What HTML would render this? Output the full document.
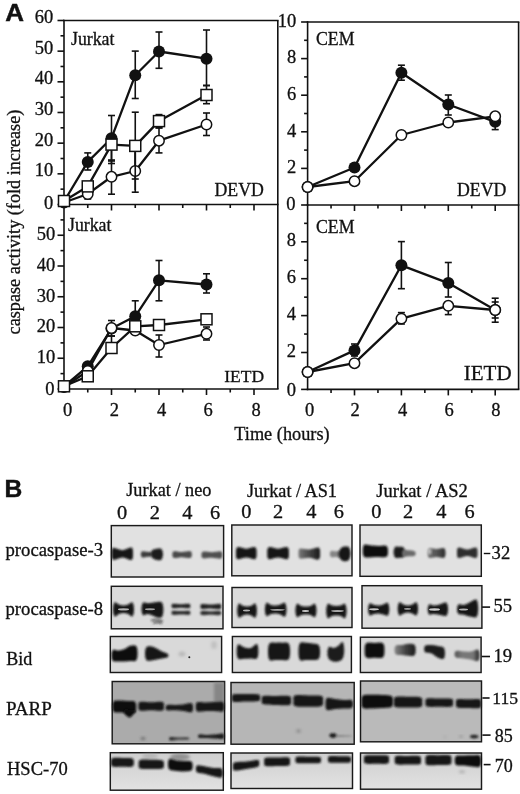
<!DOCTYPE html>
<html><head><meta charset="utf-8"><style>
html,body{margin:0;padding:0;background:#fff;overflow:hidden;width:520px;height:794px;}
svg{display:block;will-change:transform;}
</style></head><body>
<svg width="520" height="794" viewBox="0 0 520 794">
<rect width="520" height="794" fill="#fff"/>
<line x1="63.20" y1="20.50" x2="278.60" y2="20.50" stroke="#111" stroke-width="1.6"/>
<line x1="277.80" y1="20.50" x2="277.80" y2="204.50" stroke="#111" stroke-width="1.6"/>
<line x1="64.00" y1="19.70" x2="64.00" y2="205.30" stroke="#111" stroke-width="1.6"/>
<line x1="63.20" y1="204.50" x2="278.60" y2="204.50" stroke="#111" stroke-width="1.6"/>
<line x1="57.50" y1="204.50" x2="64.00" y2="204.50" stroke="#111" stroke-width="1.6"/>
<line x1="57.50" y1="173.83" x2="64.00" y2="173.83" stroke="#111" stroke-width="1.6"/>
<line x1="57.50" y1="143.16" x2="64.00" y2="143.16" stroke="#111" stroke-width="1.6"/>
<line x1="57.50" y1="112.49" x2="64.00" y2="112.49" stroke="#111" stroke-width="1.6"/>
<line x1="57.50" y1="81.82" x2="64.00" y2="81.82" stroke="#111" stroke-width="1.6"/>
<line x1="57.50" y1="51.15" x2="64.00" y2="51.15" stroke="#111" stroke-width="1.6"/>
<line x1="57.50" y1="20.48" x2="64.00" y2="20.48" stroke="#111" stroke-width="1.6"/>
<line x1="60.50" y1="189.16" x2="64.00" y2="189.16" stroke="#111" stroke-width="1.6"/>
<line x1="60.50" y1="158.50" x2="64.00" y2="158.50" stroke="#111" stroke-width="1.6"/>
<line x1="60.50" y1="127.82" x2="64.00" y2="127.82" stroke="#111" stroke-width="1.6"/>
<line x1="60.50" y1="97.16" x2="64.00" y2="97.16" stroke="#111" stroke-width="1.6"/>
<line x1="60.50" y1="66.48" x2="64.00" y2="66.48" stroke="#111" stroke-width="1.6"/>
<line x1="60.50" y1="35.81" x2="64.00" y2="35.81" stroke="#111" stroke-width="1.6"/>
<line x1="111.50" y1="204.50" x2="111.50" y2="210.50" stroke="#111" stroke-width="1.6"/>
<line x1="159.00" y1="204.50" x2="159.00" y2="210.50" stroke="#111" stroke-width="1.6"/>
<line x1="206.50" y1="204.50" x2="206.50" y2="210.50" stroke="#111" stroke-width="1.6"/>
<line x1="254.00" y1="204.50" x2="254.00" y2="210.50" stroke="#111" stroke-width="1.6"/>
<line x1="87.75" y1="204.50" x2="87.75" y2="208.00" stroke="#111" stroke-width="1.6"/>
<line x1="135.25" y1="204.50" x2="135.25" y2="208.00" stroke="#111" stroke-width="1.6"/>
<line x1="182.75" y1="204.50" x2="182.75" y2="208.00" stroke="#111" stroke-width="1.6"/>
<line x1="230.25" y1="204.50" x2="230.25" y2="208.00" stroke="#111" stroke-width="1.6"/>
<line x1="277.80" y1="204.50" x2="277.80" y2="389.00" stroke="#111" stroke-width="1.6"/>
<line x1="64.00" y1="203.70" x2="64.00" y2="389.80" stroke="#111" stroke-width="1.6"/>
<line x1="63.20" y1="389.00" x2="278.60" y2="389.00" stroke="#111" stroke-width="1.6"/>
<line x1="57.50" y1="389.00" x2="64.00" y2="389.00" stroke="#111" stroke-width="1.6"/>
<line x1="57.50" y1="358.25" x2="64.00" y2="358.25" stroke="#111" stroke-width="1.6"/>
<line x1="57.50" y1="327.50" x2="64.00" y2="327.50" stroke="#111" stroke-width="1.6"/>
<line x1="57.50" y1="296.75" x2="64.00" y2="296.75" stroke="#111" stroke-width="1.6"/>
<line x1="57.50" y1="266.00" x2="64.00" y2="266.00" stroke="#111" stroke-width="1.6"/>
<line x1="57.50" y1="235.25" x2="64.00" y2="235.25" stroke="#111" stroke-width="1.6"/>
<line x1="60.50" y1="373.62" x2="64.00" y2="373.62" stroke="#111" stroke-width="1.6"/>
<line x1="60.50" y1="342.88" x2="64.00" y2="342.88" stroke="#111" stroke-width="1.6"/>
<line x1="60.50" y1="312.12" x2="64.00" y2="312.12" stroke="#111" stroke-width="1.6"/>
<line x1="60.50" y1="281.38" x2="64.00" y2="281.38" stroke="#111" stroke-width="1.6"/>
<line x1="60.50" y1="250.62" x2="64.00" y2="250.62" stroke="#111" stroke-width="1.6"/>
<line x1="60.50" y1="219.88" x2="64.00" y2="219.88" stroke="#111" stroke-width="1.6"/>
<line x1="111.50" y1="389.00" x2="111.50" y2="395.00" stroke="#111" stroke-width="1.6"/>
<line x1="159.00" y1="389.00" x2="159.00" y2="395.00" stroke="#111" stroke-width="1.6"/>
<line x1="206.50" y1="389.00" x2="206.50" y2="395.00" stroke="#111" stroke-width="1.6"/>
<line x1="254.00" y1="389.00" x2="254.00" y2="395.00" stroke="#111" stroke-width="1.6"/>
<line x1="87.75" y1="389.00" x2="87.75" y2="392.50" stroke="#111" stroke-width="1.6"/>
<line x1="135.25" y1="389.00" x2="135.25" y2="392.50" stroke="#111" stroke-width="1.6"/>
<line x1="182.75" y1="389.00" x2="182.75" y2="392.50" stroke="#111" stroke-width="1.6"/>
<line x1="230.25" y1="389.00" x2="230.25" y2="392.50" stroke="#111" stroke-width="1.6"/>
<line x1="306.80" y1="22.00" x2="519.40" y2="22.00" stroke="#111" stroke-width="1.6"/>
<line x1="518.60" y1="22.00" x2="518.60" y2="205.00" stroke="#111" stroke-width="1.6"/>
<line x1="307.60" y1="21.20" x2="307.60" y2="205.80" stroke="#111" stroke-width="1.6"/>
<line x1="306.80" y1="205.00" x2="519.40" y2="205.00" stroke="#111" stroke-width="1.6"/>
<line x1="301.10" y1="205.00" x2="307.60" y2="205.00" stroke="#111" stroke-width="1.6"/>
<line x1="301.10" y1="168.40" x2="307.60" y2="168.40" stroke="#111" stroke-width="1.6"/>
<line x1="301.10" y1="131.80" x2="307.60" y2="131.80" stroke="#111" stroke-width="1.6"/>
<line x1="301.10" y1="95.20" x2="307.60" y2="95.20" stroke="#111" stroke-width="1.6"/>
<line x1="301.10" y1="58.60" x2="307.60" y2="58.60" stroke="#111" stroke-width="1.6"/>
<line x1="301.10" y1="22.00" x2="307.60" y2="22.00" stroke="#111" stroke-width="1.6"/>
<line x1="304.10" y1="186.70" x2="307.60" y2="186.70" stroke="#111" stroke-width="1.6"/>
<line x1="304.10" y1="150.10" x2="307.60" y2="150.10" stroke="#111" stroke-width="1.6"/>
<line x1="304.10" y1="113.50" x2="307.60" y2="113.50" stroke="#111" stroke-width="1.6"/>
<line x1="304.10" y1="76.90" x2="307.60" y2="76.90" stroke="#111" stroke-width="1.6"/>
<line x1="304.10" y1="40.30" x2="307.60" y2="40.30" stroke="#111" stroke-width="1.6"/>
<line x1="354.50" y1="205.00" x2="354.50" y2="211.00" stroke="#111" stroke-width="1.6"/>
<line x1="401.40" y1="205.00" x2="401.40" y2="211.00" stroke="#111" stroke-width="1.6"/>
<line x1="448.30" y1="205.00" x2="448.30" y2="211.00" stroke="#111" stroke-width="1.6"/>
<line x1="495.20" y1="205.00" x2="495.20" y2="211.00" stroke="#111" stroke-width="1.6"/>
<line x1="331.05" y1="205.00" x2="331.05" y2="208.50" stroke="#111" stroke-width="1.6"/>
<line x1="377.95" y1="205.00" x2="377.95" y2="208.50" stroke="#111" stroke-width="1.6"/>
<line x1="424.85" y1="205.00" x2="424.85" y2="208.50" stroke="#111" stroke-width="1.6"/>
<line x1="471.75" y1="205.00" x2="471.75" y2="208.50" stroke="#111" stroke-width="1.6"/>
<line x1="518.60" y1="205.00" x2="518.60" y2="389.40" stroke="#111" stroke-width="1.6"/>
<line x1="307.60" y1="204.20" x2="307.60" y2="390.20" stroke="#111" stroke-width="1.6"/>
<line x1="306.80" y1="389.40" x2="519.40" y2="389.40" stroke="#111" stroke-width="1.6"/>
<line x1="301.10" y1="389.40" x2="307.60" y2="389.40" stroke="#111" stroke-width="1.6"/>
<line x1="301.10" y1="352.50" x2="307.60" y2="352.50" stroke="#111" stroke-width="1.6"/>
<line x1="301.10" y1="315.60" x2="307.60" y2="315.60" stroke="#111" stroke-width="1.6"/>
<line x1="301.10" y1="278.70" x2="307.60" y2="278.70" stroke="#111" stroke-width="1.6"/>
<line x1="301.10" y1="241.80" x2="307.60" y2="241.80" stroke="#111" stroke-width="1.6"/>
<line x1="304.10" y1="370.95" x2="307.60" y2="370.95" stroke="#111" stroke-width="1.6"/>
<line x1="304.10" y1="334.05" x2="307.60" y2="334.05" stroke="#111" stroke-width="1.6"/>
<line x1="304.10" y1="297.15" x2="307.60" y2="297.15" stroke="#111" stroke-width="1.6"/>
<line x1="304.10" y1="260.25" x2="307.60" y2="260.25" stroke="#111" stroke-width="1.6"/>
<line x1="304.10" y1="223.35" x2="307.60" y2="223.35" stroke="#111" stroke-width="1.6"/>
<line x1="354.50" y1="389.40" x2="354.50" y2="395.40" stroke="#111" stroke-width="1.6"/>
<line x1="401.40" y1="389.40" x2="401.40" y2="395.40" stroke="#111" stroke-width="1.6"/>
<line x1="448.30" y1="389.40" x2="448.30" y2="395.40" stroke="#111" stroke-width="1.6"/>
<line x1="495.20" y1="389.40" x2="495.20" y2="395.40" stroke="#111" stroke-width="1.6"/>
<line x1="331.05" y1="389.40" x2="331.05" y2="392.90" stroke="#111" stroke-width="1.6"/>
<line x1="377.95" y1="389.40" x2="377.95" y2="392.90" stroke="#111" stroke-width="1.6"/>
<line x1="424.85" y1="389.40" x2="424.85" y2="392.90" stroke="#111" stroke-width="1.6"/>
<line x1="471.75" y1="389.40" x2="471.75" y2="392.90" stroke="#111" stroke-width="1.6"/>
<g font-family='"Liberation Serif", serif' fill="#111">
<text x="53.20" y="176.48" font-size="18.5" text-anchor="end" stroke="#111" stroke-width="0.3" >10</text>
<text x="53.20" y="145.81" font-size="18.5" text-anchor="end" stroke="#111" stroke-width="0.3" >20</text>
<text x="53.20" y="115.14" font-size="18.5" text-anchor="end" stroke="#111" stroke-width="0.3" >30</text>
<text x="53.20" y="84.47" font-size="18.5" text-anchor="end" stroke="#111" stroke-width="0.3" >40</text>
<text x="53.20" y="53.80" font-size="18.5" text-anchor="end" stroke="#111" stroke-width="0.3" >50</text>
<text x="53.20" y="23.13" font-size="18.5" text-anchor="end" stroke="#111" stroke-width="0.3" >60</text>
<text x="53.20" y="208.55" font-size="18.5" text-anchor="end" stroke="#111" stroke-width="0.3" >0</text>
<text x="55.30" y="363.00" font-size="18.5" text-anchor="end" stroke="#111" stroke-width="0.3" >10</text>
<text x="55.30" y="332.25" font-size="18.5" text-anchor="end" stroke="#111" stroke-width="0.3" >20</text>
<text x="55.30" y="301.50" font-size="18.5" text-anchor="end" stroke="#111" stroke-width="0.3" >30</text>
<text x="55.30" y="270.75" font-size="18.5" text-anchor="end" stroke="#111" stroke-width="0.3" >40</text>
<text x="55.30" y="240.00" font-size="18.5" text-anchor="end" stroke="#111" stroke-width="0.3" >50</text>
<text x="54.50" y="394.65" font-size="18.5" text-anchor="end" stroke="#111" stroke-width="0.3" >0</text>
<text x="296.20" y="173.15" font-size="18.5" text-anchor="end" stroke="#111" stroke-width="0.3" >2</text>
<text x="296.20" y="136.55" font-size="18.5" text-anchor="end" stroke="#111" stroke-width="0.3" >4</text>
<text x="296.20" y="99.95" font-size="18.5" text-anchor="end" stroke="#111" stroke-width="0.3" >6</text>
<text x="296.20" y="63.35" font-size="18.5" text-anchor="end" stroke="#111" stroke-width="0.3" >8</text>
<text x="296.20" y="26.75" font-size="18.5" text-anchor="end" stroke="#111" stroke-width="0.3" >10</text>
<text x="295.60" y="209.55" font-size="18.5" text-anchor="end" stroke="#111" stroke-width="0.3" >0</text>
<text x="296.00" y="356.75" font-size="18.5" text-anchor="end" stroke="#111" stroke-width="0.3" >2</text>
<text x="296.00" y="319.85" font-size="18.5" text-anchor="end" stroke="#111" stroke-width="0.3" >4</text>
<text x="296.00" y="282.95" font-size="18.5" text-anchor="end" stroke="#111" stroke-width="0.3" >6</text>
<text x="296.00" y="246.05" font-size="18.5" text-anchor="end" stroke="#111" stroke-width="0.3" >8</text>
<text x="296.00" y="395.65" font-size="18.5" text-anchor="end" stroke="#111" stroke-width="0.3" >0</text>
<text x="67.70" y="415.70" font-size="18.5" text-anchor="middle" stroke="#111" stroke-width="0.3" >0</text>
<text x="114.40" y="415.70" font-size="18.5" text-anchor="middle" stroke="#111" stroke-width="0.3" >2</text>
<text x="161.50" y="415.70" font-size="18.5" text-anchor="middle" stroke="#111" stroke-width="0.3" >4</text>
<text x="208.20" y="415.70" font-size="18.5" text-anchor="middle" stroke="#111" stroke-width="0.3" >6</text>
<text x="256.00" y="415.70" font-size="18.5" text-anchor="middle" stroke="#111" stroke-width="0.3" >8</text>
<text x="309.50" y="415.70" font-size="18.5" text-anchor="middle" stroke="#111" stroke-width="0.3" >0</text>
<text x="355.00" y="415.70" font-size="18.5" text-anchor="middle" stroke="#111" stroke-width="0.3" >2</text>
<text x="402.60" y="415.70" font-size="18.5" text-anchor="middle" stroke="#111" stroke-width="0.3" >4</text>
<text x="449.00" y="415.70" font-size="18.5" text-anchor="middle" stroke="#111" stroke-width="0.3" >6</text>
<text x="495.90" y="415.70" font-size="18.5" text-anchor="middle" stroke="#111" stroke-width="0.3" >8</text>
<text x="234.30" y="439.50" font-size="18.3" text-anchor="start" stroke="#111" stroke-width="0.3" >Time (hours)</text>
<text x="0.00" y="0.00" font-size="18.2" text-anchor="start" stroke="#111" stroke-width="0.3" transform="translate(20.3,334.4) rotate(-90)">caspase activity (fold increase)</text>
<text x="71.00" y="44.50" font-size="17.8" text-anchor="start" stroke="#111" stroke-width="0.3" >Jurkat</text>
<text x="68.00" y="231.10" font-size="17.8" text-anchor="start" stroke="#111" stroke-width="0.3" >Jurkat</text>
<text x="316.00" y="44.50" font-size="17.8" text-anchor="start" stroke="#111" stroke-width="0.3" >CEM</text>
<text x="316.00" y="232.70" font-size="17.8" text-anchor="start" stroke="#111" stroke-width="0.3" >CEM</text>
<text x="214.50" y="196.30" font-size="17.8" text-anchor="start" stroke="#111" stroke-width="0.3" >DEVD</text>
<text x="457.00" y="196.30" font-size="17.8" text-anchor="start" stroke="#111" stroke-width="0.3" >DEVD</text>
<text x="224.30" y="381.70" font-size="17.5" text-anchor="start" stroke="#111" stroke-width="0.3" >IETD</text>
<text x="463.80" y="380.20" font-size="21" text-anchor="start" stroke="#111" stroke-width="0.3" >IETD</text>
</g>
<text x="0" y="0" transform="translate(5.2,20.5) scale(1.06,1)" font-family='"Liberation Sans", sans-serif' font-weight="bold" font-size="24.5" fill="#111" stroke="#111" stroke-width="0.45">A</text>
<text x="4.5" y="497.2" font-family='"Liberation Sans", sans-serif' font-weight="bold" font-size="24.6" fill="#111" stroke="#111" stroke-width="0.45">B</text>
<line x1="87.75" y1="152.90" x2="87.75" y2="170.00" stroke="#111" stroke-width="1.6"/>
<line x1="84.25" y1="152.90" x2="91.25" y2="152.90" stroke="#111" stroke-width="1.6"/>
<line x1="84.25" y1="170.00" x2="91.25" y2="170.00" stroke="#111" stroke-width="1.6"/>
<line x1="111.50" y1="115.50" x2="111.50" y2="161.00" stroke="#111" stroke-width="1.6"/>
<line x1="108.00" y1="115.50" x2="115.00" y2="115.50" stroke="#111" stroke-width="1.6"/>
<line x1="108.00" y1="161.00" x2="115.00" y2="161.00" stroke="#111" stroke-width="1.6"/>
<line x1="135.25" y1="51.10" x2="135.25" y2="98.50" stroke="#111" stroke-width="1.6"/>
<line x1="131.75" y1="51.10" x2="138.75" y2="51.10" stroke="#111" stroke-width="1.6"/>
<line x1="131.75" y1="98.50" x2="138.75" y2="98.50" stroke="#111" stroke-width="1.6"/>
<line x1="159.00" y1="32.00" x2="159.00" y2="68.30" stroke="#111" stroke-width="1.6"/>
<line x1="155.50" y1="32.00" x2="162.50" y2="32.00" stroke="#111" stroke-width="1.6"/>
<line x1="155.50" y1="68.30" x2="162.50" y2="68.30" stroke="#111" stroke-width="1.6"/>
<line x1="206.50" y1="30.00" x2="206.50" y2="85.50" stroke="#111" stroke-width="1.6"/>
<line x1="203.00" y1="30.00" x2="210.00" y2="30.00" stroke="#111" stroke-width="1.6"/>
<line x1="203.00" y1="85.50" x2="210.00" y2="85.50" stroke="#111" stroke-width="1.6"/>
<line x1="111.50" y1="144.00" x2="111.50" y2="163.50" stroke="#111" stroke-width="1.6"/>
<line x1="108.00" y1="144.00" x2="115.00" y2="144.00" stroke="#111" stroke-width="1.6"/>
<line x1="108.00" y1="163.50" x2="115.00" y2="163.50" stroke="#111" stroke-width="1.6"/>
<line x1="135.25" y1="112.20" x2="135.25" y2="179.00" stroke="#111" stroke-width="1.6"/>
<line x1="131.75" y1="112.20" x2="138.75" y2="112.20" stroke="#111" stroke-width="1.6"/>
<line x1="131.75" y1="179.00" x2="138.75" y2="179.00" stroke="#111" stroke-width="1.6"/>
<line x1="159.00" y1="114.60" x2="159.00" y2="127.70" stroke="#111" stroke-width="1.6"/>
<line x1="155.50" y1="114.60" x2="162.50" y2="114.60" stroke="#111" stroke-width="1.6"/>
<line x1="155.50" y1="127.70" x2="162.50" y2="127.70" stroke="#111" stroke-width="1.6"/>
<line x1="206.50" y1="85.50" x2="206.50" y2="103.70" stroke="#111" stroke-width="1.6"/>
<line x1="203.00" y1="85.50" x2="210.00" y2="85.50" stroke="#111" stroke-width="1.6"/>
<line x1="203.00" y1="103.70" x2="210.00" y2="103.70" stroke="#111" stroke-width="1.6"/>
<line x1="111.50" y1="160.00" x2="111.50" y2="194.20" stroke="#111" stroke-width="1.6"/>
<line x1="108.00" y1="160.00" x2="115.00" y2="160.00" stroke="#111" stroke-width="1.6"/>
<line x1="108.00" y1="194.20" x2="115.00" y2="194.20" stroke="#111" stroke-width="1.6"/>
<line x1="135.25" y1="150.00" x2="135.25" y2="192.20" stroke="#111" stroke-width="1.6"/>
<line x1="131.75" y1="150.00" x2="138.75" y2="150.00" stroke="#111" stroke-width="1.6"/>
<line x1="131.75" y1="192.20" x2="138.75" y2="192.20" stroke="#111" stroke-width="1.6"/>
<line x1="159.00" y1="128.00" x2="159.00" y2="152.90" stroke="#111" stroke-width="1.6"/>
<line x1="155.50" y1="128.00" x2="162.50" y2="128.00" stroke="#111" stroke-width="1.6"/>
<line x1="155.50" y1="152.90" x2="162.50" y2="152.90" stroke="#111" stroke-width="1.6"/>
<line x1="206.50" y1="113.00" x2="206.50" y2="135.50" stroke="#111" stroke-width="1.6"/>
<line x1="203.00" y1="113.00" x2="210.00" y2="113.00" stroke="#111" stroke-width="1.6"/>
<line x1="203.00" y1="135.50" x2="210.00" y2="135.50" stroke="#111" stroke-width="1.6"/>
<line x1="64.00" y1="200.00" x2="64.00" y2="205.50" stroke="#111" stroke-width="1.6"/>
<line x1="60.50" y1="200.00" x2="67.50" y2="200.00" stroke="#111" stroke-width="1.6"/>
<line x1="60.50" y1="205.50" x2="67.50" y2="205.50" stroke="#111" stroke-width="1.6"/>
<line x1="87.75" y1="188.00" x2="87.75" y2="199.00" stroke="#111" stroke-width="1.6"/>
<line x1="84.25" y1="188.00" x2="91.25" y2="188.00" stroke="#111" stroke-width="1.6"/>
<line x1="84.25" y1="199.00" x2="91.25" y2="199.00" stroke="#111" stroke-width="1.6"/>
<path d="M64.00,201.50 L87.75,161.90 L111.50,138.20 L135.25,75.20 L159.00,51.50 L206.50,58.70" fill="none" stroke="#111" stroke-width="2.3" stroke-linejoin="round"/>
<path d="M64.00,201.00 L87.75,186.40 L111.50,144.60 L135.25,145.90 L159.00,121.10 L206.50,95.00" fill="none" stroke="#111" stroke-width="2.3" stroke-linejoin="round"/>
<path d="M64.00,202.50 L87.75,194.00 L111.50,176.80 L135.25,171.00 L159.00,140.70 L206.50,124.50" fill="none" stroke="#111" stroke-width="2.3" stroke-linejoin="round"/>
<circle cx="64.00" cy="202.50" r="5.2" fill="#fff" stroke="#111" stroke-width="1.5"/>
<circle cx="87.75" cy="194.00" r="5.2" fill="#fff" stroke="#111" stroke-width="1.5"/>
<circle cx="111.50" cy="176.80" r="5.2" fill="#fff" stroke="#111" stroke-width="1.5"/>
<circle cx="135.25" cy="171.00" r="5.2" fill="#fff" stroke="#111" stroke-width="1.5"/>
<circle cx="159.00" cy="140.70" r="5.2" fill="#fff" stroke="#111" stroke-width="1.5"/>
<circle cx="206.50" cy="124.50" r="5.2" fill="#fff" stroke="#111" stroke-width="1.5"/>
<circle cx="64.00" cy="201.50" r="6.0" fill="#111"/>
<circle cx="87.75" cy="161.90" r="6.0" fill="#111"/>
<circle cx="111.50" cy="138.20" r="6.0" fill="#111"/>
<circle cx="135.25" cy="75.20" r="6.0" fill="#111"/>
<circle cx="159.00" cy="51.50" r="6.0" fill="#111"/>
<circle cx="206.50" cy="58.70" r="6.0" fill="#111"/>
<rect x="58.50" y="195.50" width="11.0" height="11.0" fill="#fff" stroke="#111" stroke-width="1.5"/>
<rect x="82.25" y="180.90" width="11.0" height="11.0" fill="#fff" stroke="#111" stroke-width="1.5"/>
<rect x="106.00" y="139.10" width="11.0" height="11.0" fill="#fff" stroke="#111" stroke-width="1.5"/>
<rect x="129.75" y="140.40" width="11.0" height="11.0" fill="#fff" stroke="#111" stroke-width="1.5"/>
<rect x="153.50" y="115.60" width="11.0" height="11.0" fill="#fff" stroke="#111" stroke-width="1.5"/>
<rect x="201.00" y="89.50" width="11.0" height="11.0" fill="#fff" stroke="#111" stroke-width="1.5"/>
<line x1="135.25" y1="152.50" x2="135.25" y2="190.00" stroke="#111" stroke-width="1.6"/>
<line x1="401.40" y1="65.20" x2="401.40" y2="80.20" stroke="#111" stroke-width="1.6"/>
<line x1="397.90" y1="65.20" x2="404.90" y2="65.20" stroke="#111" stroke-width="1.6"/>
<line x1="397.90" y1="80.20" x2="404.90" y2="80.20" stroke="#111" stroke-width="1.6"/>
<line x1="448.30" y1="95.00" x2="448.30" y2="115.00" stroke="#111" stroke-width="1.6"/>
<line x1="444.80" y1="95.00" x2="451.80" y2="95.00" stroke="#111" stroke-width="1.6"/>
<line x1="444.80" y1="115.00" x2="451.80" y2="115.00" stroke="#111" stroke-width="1.6"/>
<line x1="495.20" y1="118.00" x2="495.20" y2="129.60" stroke="#111" stroke-width="1.6"/>
<line x1="491.70" y1="118.00" x2="498.70" y2="118.00" stroke="#111" stroke-width="1.6"/>
<line x1="491.70" y1="129.60" x2="498.70" y2="129.60" stroke="#111" stroke-width="1.6"/>
<path d="M307.60,187.00 L354.50,167.50 L401.40,72.70 L448.30,104.50 L495.20,121.80" fill="none" stroke="#111" stroke-width="2.3" stroke-linejoin="round"/>
<path d="M307.60,187.00 L354.50,181.20 L401.40,135.00 L448.30,122.50 L495.20,116.30" fill="none" stroke="#111" stroke-width="2.3" stroke-linejoin="round"/>
<circle cx="307.60" cy="187.00" r="6.0" fill="#111"/>
<circle cx="354.50" cy="167.50" r="6.0" fill="#111"/>
<circle cx="401.40" cy="72.70" r="6.0" fill="#111"/>
<circle cx="448.30" cy="104.50" r="6.0" fill="#111"/>
<circle cx="495.20" cy="121.80" r="6.0" fill="#111"/>
<circle cx="307.60" cy="187.00" r="5.2" fill="#fff" stroke="#111" stroke-width="1.5"/>
<circle cx="354.50" cy="181.20" r="5.2" fill="#fff" stroke="#111" stroke-width="1.5"/>
<circle cx="401.40" cy="135.00" r="5.2" fill="#fff" stroke="#111" stroke-width="1.5"/>
<circle cx="448.30" cy="122.50" r="5.2" fill="#fff" stroke="#111" stroke-width="1.5"/>
<circle cx="495.20" cy="116.30" r="5.2" fill="#fff" stroke="#111" stroke-width="1.5"/>
<line x1="159.00" y1="260.50" x2="159.00" y2="300.80" stroke="#111" stroke-width="1.6"/>
<line x1="155.50" y1="260.50" x2="162.50" y2="260.50" stroke="#111" stroke-width="1.6"/>
<line x1="155.50" y1="300.80" x2="162.50" y2="300.80" stroke="#111" stroke-width="1.6"/>
<line x1="135.25" y1="300.80" x2="135.25" y2="331.00" stroke="#111" stroke-width="1.6"/>
<line x1="131.75" y1="300.80" x2="138.75" y2="300.80" stroke="#111" stroke-width="1.6"/>
<line x1="131.75" y1="331.00" x2="138.75" y2="331.00" stroke="#111" stroke-width="1.6"/>
<line x1="206.50" y1="273.80" x2="206.50" y2="293.00" stroke="#111" stroke-width="1.6"/>
<line x1="203.00" y1="273.80" x2="210.00" y2="273.80" stroke="#111" stroke-width="1.6"/>
<line x1="203.00" y1="293.00" x2="210.00" y2="293.00" stroke="#111" stroke-width="1.6"/>
<line x1="111.50" y1="320.50" x2="111.50" y2="336.00" stroke="#111" stroke-width="1.6"/>
<line x1="108.00" y1="320.50" x2="115.00" y2="320.50" stroke="#111" stroke-width="1.6"/>
<line x1="108.00" y1="336.00" x2="115.00" y2="336.00" stroke="#111" stroke-width="1.6"/>
<line x1="159.00" y1="335.00" x2="159.00" y2="357.00" stroke="#111" stroke-width="1.6"/>
<line x1="155.50" y1="335.00" x2="162.50" y2="335.00" stroke="#111" stroke-width="1.6"/>
<line x1="155.50" y1="357.00" x2="162.50" y2="357.00" stroke="#111" stroke-width="1.6"/>
<line x1="206.50" y1="327.00" x2="206.50" y2="340.00" stroke="#111" stroke-width="1.6"/>
<line x1="203.00" y1="327.00" x2="210.00" y2="327.00" stroke="#111" stroke-width="1.6"/>
<line x1="203.00" y1="340.00" x2="210.00" y2="340.00" stroke="#111" stroke-width="1.6"/>
<line x1="111.50" y1="336.00" x2="111.50" y2="350.00" stroke="#111" stroke-width="1.6"/>
<line x1="108.00" y1="336.00" x2="115.00" y2="336.00" stroke="#111" stroke-width="1.6"/>
<line x1="108.00" y1="350.00" x2="115.00" y2="350.00" stroke="#111" stroke-width="1.6"/>
<path d="M64.00,386.50 L87.75,366.30 L111.50,328.50 L135.25,316.30 L159.00,280.30 L206.50,284.50" fill="none" stroke="#111" stroke-width="2.3" stroke-linejoin="round"/>
<path d="M64.00,386.30 L87.75,376.30 L111.50,348.00 L135.25,326.30 L159.00,325.00 L206.50,319.30" fill="none" stroke="#111" stroke-width="2.3" stroke-linejoin="round"/>
<path d="M64.00,387.00 L87.75,371.00 L111.50,328.00 L135.25,330.50 L159.00,345.00 L206.50,333.80" fill="none" stroke="#111" stroke-width="2.3" stroke-linejoin="round"/>
<circle cx="64.00" cy="386.50" r="6.0" fill="#111"/>
<circle cx="87.75" cy="366.30" r="6.0" fill="#111"/>
<circle cx="111.50" cy="328.50" r="6.0" fill="#111"/>
<circle cx="135.25" cy="316.30" r="6.0" fill="#111"/>
<circle cx="159.00" cy="280.30" r="6.0" fill="#111"/>
<circle cx="206.50" cy="284.50" r="6.0" fill="#111"/>
<circle cx="64.00" cy="387.00" r="5.2" fill="#fff" stroke="#111" stroke-width="1.5"/>
<circle cx="87.75" cy="371.00" r="5.2" fill="#fff" stroke="#111" stroke-width="1.5"/>
<circle cx="111.50" cy="328.00" r="5.2" fill="#fff" stroke="#111" stroke-width="1.5"/>
<circle cx="135.25" cy="330.50" r="5.2" fill="#fff" stroke="#111" stroke-width="1.5"/>
<circle cx="159.00" cy="345.00" r="5.2" fill="#fff" stroke="#111" stroke-width="1.5"/>
<circle cx="206.50" cy="333.80" r="5.2" fill="#fff" stroke="#111" stroke-width="1.5"/>
<rect x="58.50" y="380.80" width="11.0" height="11.0" fill="#fff" stroke="#111" stroke-width="1.5"/>
<rect x="82.25" y="370.80" width="11.0" height="11.0" fill="#fff" stroke="#111" stroke-width="1.5"/>
<rect x="106.00" y="342.50" width="11.0" height="11.0" fill="#fff" stroke="#111" stroke-width="1.5"/>
<rect x="129.75" y="320.80" width="11.0" height="11.0" fill="#fff" stroke="#111" stroke-width="1.5"/>
<rect x="153.50" y="319.50" width="11.0" height="11.0" fill="#fff" stroke="#111" stroke-width="1.5"/>
<rect x="201.00" y="313.80" width="11.0" height="11.0" fill="#fff" stroke="#111" stroke-width="1.5"/>
<line x1="401.40" y1="241.60" x2="401.40" y2="288.70" stroke="#111" stroke-width="1.6"/>
<line x1="397.90" y1="241.60" x2="404.90" y2="241.60" stroke="#111" stroke-width="1.6"/>
<line x1="397.90" y1="288.70" x2="404.90" y2="288.70" stroke="#111" stroke-width="1.6"/>
<line x1="448.30" y1="262.50" x2="448.30" y2="297.00" stroke="#111" stroke-width="1.6"/>
<line x1="444.80" y1="262.50" x2="451.80" y2="262.50" stroke="#111" stroke-width="1.6"/>
<line x1="444.80" y1="297.00" x2="451.80" y2="297.00" stroke="#111" stroke-width="1.6"/>
<line x1="495.20" y1="298.20" x2="495.20" y2="322.20" stroke="#111" stroke-width="1.6"/>
<line x1="491.70" y1="298.20" x2="498.70" y2="298.20" stroke="#111" stroke-width="1.6"/>
<line x1="491.70" y1="322.20" x2="498.70" y2="322.20" stroke="#111" stroke-width="1.6"/>
<line x1="448.30" y1="305.00" x2="448.30" y2="314.60" stroke="#111" stroke-width="1.6"/>
<line x1="444.80" y1="305.00" x2="451.80" y2="305.00" stroke="#111" stroke-width="1.6"/>
<line x1="444.80" y1="314.60" x2="451.80" y2="314.60" stroke="#111" stroke-width="1.6"/>
<line x1="401.40" y1="312.60" x2="401.40" y2="324.00" stroke="#111" stroke-width="1.6"/>
<line x1="397.90" y1="312.60" x2="404.90" y2="312.60" stroke="#111" stroke-width="1.6"/>
<line x1="397.90" y1="324.00" x2="404.90" y2="324.00" stroke="#111" stroke-width="1.6"/>
<line x1="495.20" y1="302.00" x2="495.20" y2="318.00" stroke="#111" stroke-width="1.6"/>
<line x1="491.70" y1="302.00" x2="498.70" y2="302.00" stroke="#111" stroke-width="1.6"/>
<line x1="491.70" y1="318.00" x2="498.70" y2="318.00" stroke="#111" stroke-width="1.6"/>
<line x1="354.50" y1="344.00" x2="354.50" y2="356.00" stroke="#111" stroke-width="1.6"/>
<line x1="351.00" y1="344.00" x2="358.00" y2="344.00" stroke="#111" stroke-width="1.6"/>
<line x1="351.00" y1="356.00" x2="358.00" y2="356.00" stroke="#111" stroke-width="1.6"/>
<path d="M307.60,372.00 L354.50,350.40 L401.40,265.30 L448.30,283.10 L495.20,310.00" fill="none" stroke="#111" stroke-width="2.3" stroke-linejoin="round"/>
<path d="M307.60,372.00 L354.50,363.20 L401.40,318.60 L448.30,305.80 L495.20,310.00" fill="none" stroke="#111" stroke-width="2.3" stroke-linejoin="round"/>
<circle cx="307.60" cy="372.00" r="6.0" fill="#111"/>
<circle cx="354.50" cy="350.40" r="6.0" fill="#111"/>
<circle cx="401.40" cy="265.30" r="6.0" fill="#111"/>
<circle cx="448.30" cy="283.10" r="6.0" fill="#111"/>
<circle cx="495.20" cy="310.00" r="6.0" fill="#111"/>
<circle cx="307.60" cy="372.00" r="5.2" fill="#fff" stroke="#111" stroke-width="1.5"/>
<circle cx="354.50" cy="363.20" r="5.2" fill="#fff" stroke="#111" stroke-width="1.5"/>
<circle cx="401.40" cy="318.60" r="5.2" fill="#fff" stroke="#111" stroke-width="1.5"/>
<circle cx="448.30" cy="305.80" r="5.2" fill="#fff" stroke="#111" stroke-width="1.5"/>
<circle cx="495.20" cy="310.00" r="5.2" fill="#fff" stroke="#111" stroke-width="1.5"/>
<g font-family='"Liberation Serif", serif' fill="#111">
<text x="126.20" y="496.00" font-size="18.3" text-anchor="start" stroke="#111" stroke-width="0.3" >Jurkat / neo</text>
<text x="247.00" y="496.70" font-size="18.2" text-anchor="start" stroke="#111" stroke-width="0.3" >Jurkat / AS1</text>
<text x="376.30" y="496.70" font-size="18.5" text-anchor="start" stroke="#111" stroke-width="0.3" >Jurkat / AS2</text>
<text x="0" y="0" transform="translate(122.10,519.00) scale(1.1,1)" font-size="18.5" text-anchor="middle" stroke="#111" stroke-width="0.3">0</text>
<text x="0" y="0" transform="translate(154.80,519.00) scale(1.1,1)" font-size="18.5" text-anchor="middle" stroke="#111" stroke-width="0.3">2</text>
<text x="0" y="0" transform="translate(187.30,519.00) scale(1.1,1)" font-size="18.5" text-anchor="middle" stroke="#111" stroke-width="0.3">4</text>
<text x="0" y="0" transform="translate(215.00,519.00) scale(1.1,1)" font-size="18.5" text-anchor="middle" stroke="#111" stroke-width="0.3">6</text>
<text x="0" y="0" transform="translate(246.30,518.30) scale(1.1,1)" font-size="18.5" text-anchor="middle" stroke="#111" stroke-width="0.3">0</text>
<text x="0" y="0" transform="translate(278.00,518.30) scale(1.1,1)" font-size="18.5" text-anchor="middle" stroke="#111" stroke-width="0.3">2</text>
<text x="0" y="0" transform="translate(311.30,518.30) scale(1.1,1)" font-size="18.5" text-anchor="middle" stroke="#111" stroke-width="0.3">4</text>
<text x="0" y="0" transform="translate(338.80,518.30) scale(1.1,1)" font-size="18.5" text-anchor="middle" stroke="#111" stroke-width="0.3">6</text>
<text x="0" y="0" transform="translate(376.30,518.30) scale(1.1,1)" font-size="18.5" text-anchor="middle" stroke="#111" stroke-width="0.3">0</text>
<text x="0" y="0" transform="translate(408.00,518.30) scale(1.1,1)" font-size="18.5" text-anchor="middle" stroke="#111" stroke-width="0.3">2</text>
<text x="0" y="0" transform="translate(441.30,518.30) scale(1.1,1)" font-size="18.5" text-anchor="middle" stroke="#111" stroke-width="0.3">4</text>
<text x="0" y="0" transform="translate(469.50,518.30) scale(1.1,1)" font-size="18.5" text-anchor="middle" stroke="#111" stroke-width="0.3">6</text>
<text x="5.50" y="555.70" font-size="18.7" text-anchor="start" stroke="#111" stroke-width="0.3" >procaspase-3</text>
<text x="5.50" y="614.50" font-size="18.7" text-anchor="start" stroke="#111" stroke-width="0.3" >procaspase-8</text>
<text x="6.20" y="665.00" font-size="18" text-anchor="start" stroke="#111" stroke-width="0.3" >Bid</text>
<text x="6.00" y="715.00" font-size="19.0" text-anchor="start" stroke="#111" stroke-width="0.3" >PARP</text>
<text x="7.00" y="774.50" font-size="18.5" text-anchor="start" stroke="#111" stroke-width="0.3" >HSC-70</text>
<line x1="483.80" y1="553.50" x2="490.30" y2="553.50" stroke="#111" stroke-width="1.4"/>
<text x="491.60" y="558.70" font-size="18.6" text-anchor="start" stroke="#111" stroke-width="0.3" >32</text>
<line x1="481.50" y1="607.10" x2="490.10" y2="607.10" stroke="#111" stroke-width="1.6"/>
<text x="493.40" y="611.70" font-size="18.6" text-anchor="start" stroke="#111" stroke-width="0.3" >55</text>
<line x1="481.50" y1="656.50" x2="490.00" y2="656.50" stroke="#111" stroke-width="1.6"/>
<text x="493.40" y="661.50" font-size="18.6" text-anchor="start" stroke="#111" stroke-width="0.3" >19</text>
<line x1="482.40" y1="698.00" x2="489.60" y2="698.00" stroke="#111" stroke-width="1.6"/>
<text x="492.30" y="703.50" font-size="17.6" text-anchor="start" stroke="#111" stroke-width="0.3" >115</text>
<line x1="482.40" y1="735.10" x2="490.60" y2="735.10" stroke="#111" stroke-width="1.6"/>
<text x="494.80" y="741.70" font-size="18.0" text-anchor="start" stroke="#111" stroke-width="0.3" >85</text>
<line x1="483.70" y1="764.60" x2="490.60" y2="764.60" stroke="#111" stroke-width="1.6"/>
<text x="494.80" y="771.90" font-size="18.0" text-anchor="start" stroke="#111" stroke-width="0.3" >70</text>
</g>
<rect x="111.30" y="525.60" width="112.30" height="51.40" fill="#e1e1e1" stroke="#1a1a1a" stroke-width="1.45"/>
<path d="M113.30,547.80 C115.07,547.20 119.37,550.23 122.40,550.20 C125.43,550.17 129.73,547.00 131.50,547.60 C133.27,548.20 133.00,551.73 133.00,553.80 C133.00,555.87 133.27,559.40 131.50,560.00 C129.73,560.60 125.43,557.43 122.40,557.40 C119.37,557.37 115.07,560.40 113.30,559.80 C111.53,559.20 111.80,555.80 111.80,553.80 C111.80,551.80 111.53,548.40 113.30,547.80 Z" fill="#161616" opacity="1.0" filter="url(#bl)"/>
<path d="M142.30,551.30 C143.23,550.87 145.03,551.63 146.40,551.80 C147.77,551.97 149.57,551.86 150.50,552.30 C151.43,552.74 152.00,553.73 152.00,554.45 C152.00,555.17 151.43,556.18 150.50,556.60 C149.57,557.02 147.77,556.85 146.40,557.00 C145.03,557.15 143.23,557.93 142.30,557.50 C141.37,557.07 140.80,555.43 140.80,554.40 C140.80,553.37 141.37,551.73 142.30,551.30 Z" fill="#3c3c3c" opacity="1.0" filter="url(#bl)"/>
<path d="M152.00,550.50 C152.78,549.67 154.11,549.33 155.17,549.00 C156.22,548.67 157.28,548.50 158.33,548.50 C159.39,548.50 160.72,548.04 161.50,549.00 C162.28,549.96 163.00,552.50 163.00,554.25 C163.00,556.00 162.28,558.51 161.50,559.50 C160.72,560.49 159.39,560.20 158.33,560.20 C157.28,560.20 156.22,559.95 155.17,559.50 C154.11,559.05 152.78,558.42 152.00,557.50 C151.22,556.58 150.50,555.17 150.50,554.00 C150.50,552.83 151.22,551.33 152.00,550.50 Z" fill="#1a1a1a" opacity="1.0" filter="url(#bl)"/>
<path d="M173.90,551.30 C175.52,550.87 179.37,552.02 182.10,552.00 C184.83,551.98 188.68,550.77 190.30,551.20 C191.92,551.63 191.80,553.47 191.80,554.60 C191.80,555.73 191.92,557.57 190.30,558.00 C188.68,558.43 184.83,557.22 182.10,557.20 C179.37,557.18 175.52,558.33 173.90,557.90 C172.28,557.47 172.40,555.70 172.40,554.60 C172.40,553.50 172.28,551.73 173.90,551.30 Z" fill="#484848" opacity="1.0" filter="url(#bl)"/>
<path d="M203.00,551.70 C204.73,551.25 208.93,552.35 211.90,552.30 C214.87,552.25 219.07,550.95 220.80,551.40 C222.53,551.85 222.30,553.80 222.30,555.00 C222.30,556.20 222.53,558.15 220.80,558.60 C219.07,559.05 214.87,557.75 211.90,557.70 C208.93,557.65 204.73,558.75 203.00,558.30 C201.27,557.85 201.50,556.10 201.50,555.00 C201.50,553.90 201.27,552.15 203.00,551.70 Z" fill="#505050" opacity="1.0" filter="url(#bl)"/>
<rect x="231.80" y="525.00" width="120.20" height="50.80" fill="#e1e1e1" stroke="#1a1a1a" stroke-width="1.45"/>
<path d="M237.50,547.20 C239.22,546.47 243.37,548.80 246.30,548.80 C249.23,548.80 253.38,546.47 255.10,547.20 C256.82,547.93 256.60,551.20 256.60,553.20 C256.60,555.20 256.82,558.47 255.10,559.20 C253.38,559.93 249.23,557.60 246.30,557.60 C243.37,557.60 239.22,559.93 237.50,559.20 C235.78,558.47 236.00,555.20 236.00,553.20 C236.00,551.20 235.78,547.93 237.50,547.20 Z" fill="#161616" opacity="1.0" filter="url(#bl)"/>
<path d="M268.80,547.20 C270.60,546.47 275.00,548.80 278.10,548.80 C281.20,548.80 285.60,546.47 287.40,547.20 C289.20,547.93 288.90,551.20 288.90,553.20 C288.90,555.20 289.20,558.47 287.40,559.20 C285.60,559.93 281.20,557.60 278.10,557.60 C275.00,557.60 270.60,559.93 268.80,559.20 C267.00,558.47 267.30,555.20 267.30,553.20 C267.30,551.20 267.00,547.93 268.80,547.20 Z" fill="#161616" opacity="1.0" filter="url(#bl)"/>
<path d="M300.00,548.60 C301.80,547.90 306.20,549.57 309.30,549.40 C312.40,549.23 316.80,546.90 318.60,547.60 C320.40,548.30 320.10,551.60 320.10,553.60 C320.10,555.60 320.40,558.90 318.60,559.60 C316.80,560.30 312.40,557.97 309.30,557.80 C306.20,557.63 301.80,559.30 300.00,558.60 C298.20,557.90 298.50,555.27 298.50,553.60 C298.50,551.93 298.20,549.30 300.00,548.60 Z" fill="url(#g1)" opacity="1.0" filter="url(#bl)"/>
<path d="M331.30,550.80 C332.23,550.34 334.03,551.27 335.40,551.30 C336.77,551.33 338.57,550.51 339.50,551.00 C340.43,551.49 341.00,553.17 341.00,554.25 C341.00,555.33 340.43,557.04 339.50,557.50 C338.57,557.96 336.77,557.03 335.40,557.00 C334.03,556.97 332.23,557.79 331.30,557.30 C330.37,556.81 329.80,555.13 329.80,554.05 C329.80,552.97 330.37,551.26 331.30,550.80 Z" fill="#858585" opacity="1.0" filter="url(#bl)"/>
<path d="M340.00,549.50 C340.76,548.30 342.02,547.30 343.03,546.80 C344.04,546.30 345.06,546.38 346.07,546.50 C347.08,546.62 348.34,546.33 349.10,547.50 C349.86,548.67 350.60,551.50 350.60,553.50 C350.60,555.50 349.86,558.22 349.10,559.50 C348.34,560.78 347.08,560.95 346.07,561.20 C345.06,561.45 344.04,561.45 343.03,561.00 C342.02,560.55 340.76,559.67 340.00,558.50 C339.24,557.33 338.50,555.50 338.50,554.00 C338.50,552.50 339.24,550.70 340.00,549.50 Z" fill="#161616" opacity="1.0" filter="url(#bl)"/>
<rect x="360.00" y="525.00" width="121.30" height="51.30" fill="#e1e1e1" stroke="#1a1a1a" stroke-width="1.45"/>
<path d="M364.30,544.70 C365.78,543.81 369.23,545.28 371.70,545.50 C374.17,545.72 376.63,545.92 379.10,546.00 C381.57,546.08 385.02,545.10 386.50,546.00 C387.98,546.90 388.00,549.60 388.00,551.40 C388.00,553.20 387.98,555.87 386.50,556.80 C385.02,557.73 381.57,556.93 379.10,557.00 C376.63,557.07 374.17,557.20 371.70,557.20 C369.23,557.20 365.78,558.06 364.30,557.00 C362.82,555.94 362.80,552.90 362.80,550.85 C362.80,548.80 362.82,545.59 364.30,544.70 Z" fill="#111" opacity="1.0" filter="url(#bl)"/>
<path d="M395.10,547.00 C396.05,546.09 397.90,546.72 399.30,546.80 C400.70,546.88 402.55,546.59 403.50,547.50 C404.45,548.41 405.00,550.67 405.00,552.25 C405.00,553.83 404.45,556.08 403.50,557.00 C402.55,557.92 400.70,557.72 399.30,557.80 C397.90,557.88 396.05,558.42 395.10,557.50 C394.15,556.58 393.60,554.00 393.60,552.25 C393.60,550.50 394.15,547.91 395.10,547.00 Z" fill="#1c1c1c" opacity="1.0" filter="url(#bl)"/>
<path d="M403.50,549.80 C404.64,549.32 407.07,550.10 408.85,550.30 C410.63,550.50 413.06,550.47 414.20,551.00 C415.34,551.53 415.70,552.67 415.70,553.50 C415.70,554.33 415.34,555.53 414.20,556.00 C413.06,556.47 410.63,556.22 408.85,556.30 C407.07,556.38 404.64,557.02 403.50,556.50 C402.36,555.98 402.00,554.27 402.00,553.15 C402.00,552.03 402.36,550.27 403.50,549.80 Z" fill="#6a6a6a" opacity="1.0" filter="url(#bl)"/>
<path d="M429.20,548.20 C430.68,547.53 434.13,549.00 436.60,549.00 C439.07,549.00 442.52,547.53 444.00,548.20 C445.48,548.87 445.50,551.40 445.50,553.00 C445.50,554.60 445.48,557.13 444.00,557.80 C442.52,558.47 439.07,557.00 436.60,557.00 C434.13,557.00 430.68,558.47 429.20,557.80 C427.72,557.13 427.70,554.60 427.70,553.00 C427.70,551.40 427.72,548.87 429.20,548.20 Z" fill="url(#g2)" opacity="1.0" filter="url(#bl)"/>
<ellipse cx="429.50" cy="551.50" rx="1.60" ry="3.20" fill="#f0f0f0" opacity="0.8" filter="url(#bl2)"/>
<path d="M458.50,547.60 C460.21,547.07 464.33,549.60 467.25,549.60 C470.17,549.60 474.29,547.07 476.00,547.60 C477.71,548.13 477.50,551.07 477.50,552.80 C477.50,554.53 477.71,557.47 476.00,558.00 C474.29,558.53 470.17,556.00 467.25,556.00 C464.33,556.00 460.21,558.53 458.50,558.00 C456.79,557.47 457.00,554.53 457.00,552.80 C457.00,551.07 456.79,548.13 458.50,547.60 Z" fill="#2e2e2e" opacity="1.0" filter="url(#bl)"/>
<rect x="111.30" y="586.30" width="111.70" height="42.50" fill="#dbdbdb" stroke="#1a1a1a" stroke-width="1.45"/>
<path d="M114.50,602.50 C115.50,601.68 117.50,604.00 119.00,604.50 C120.50,605.00 122.00,605.50 123.50,605.50 C125.00,605.50 126.50,605.00 128.00,604.50 C129.50,604.00 131.50,601.68 132.50,602.50 C133.50,603.32 134.00,607.10 134.00,609.40 C134.00,611.70 133.50,615.53 132.50,616.30 C131.50,617.07 129.50,614.55 128.00,614.00 C126.50,613.45 125.00,613.00 123.50,613.00 C122.00,613.00 120.50,613.45 119.00,614.00 C117.50,614.55 115.50,617.07 114.50,616.30 C113.50,615.53 113.00,611.70 113.00,609.40 C113.00,607.10 113.50,603.32 114.50,602.50 Z" fill="#161616" opacity="1.0" filter="url(#bl)"/>
<ellipse cx="123.50" cy="609.40" rx="5.50" ry="1.05" fill="#b0b0b0" opacity="1.0" filter="url(#bg)"/>
<path d="M143.00,602.80 C144.04,601.85 146.15,603.20 147.72,603.20 C149.30,603.20 150.88,603.00 152.45,602.80 C154.02,602.60 155.60,602.05 157.18,602.00 C158.75,601.95 160.86,601.21 161.90,602.50 C162.94,603.79 163.40,607.33 163.40,609.75 C163.40,612.17 162.94,615.71 161.90,617.00 C160.86,618.29 158.75,617.75 157.18,617.50 C155.60,617.25 154.02,616.08 152.45,615.50 C150.88,614.92 149.30,614.08 147.72,614.00 C146.15,613.92 144.04,615.85 143.00,615.00 C141.96,614.15 141.50,610.93 141.50,608.90 C141.50,606.87 141.96,603.75 143.00,602.80 Z" fill="#161616" opacity="1.0" filter="url(#bl)"/>
<ellipse cx="150.00" cy="609.20" rx="5.00" ry="0.98" fill="#a0a0a0" opacity="1.0" filter="url(#bg)"/>
<path d="M151,620.5 Q157,618.5 163,621.2 M153,623 Q158,621.5 162,623.5" fill="none" stroke="#222" stroke-width="1.1" filter="url(#bl)"/>
<path d="M173.00,603.80 C174.57,603.50 178.30,604.22 180.95,604.20 C183.60,604.18 187.32,603.40 188.90,603.70 C190.48,604.00 190.40,605.23 190.40,606.00 C190.40,606.77 190.48,608.00 188.90,608.30 C187.32,608.60 183.60,607.82 180.95,607.80 C178.30,607.78 174.57,608.50 173.00,608.20 C171.43,607.90 171.50,606.73 171.50,606.00 C171.50,605.27 171.43,604.10 173.00,603.80 Z" fill="#222" opacity="1.0" filter="url(#bl)"/>
<path d="M173.00,610.80 C174.57,610.52 178.30,611.10 180.95,611.10 C183.60,611.10 187.32,610.52 188.90,610.80 C190.48,611.08 190.40,612.13 190.40,612.80 C190.40,613.47 190.48,614.52 188.90,614.80 C187.32,615.08 183.60,614.50 180.95,614.50 C178.30,614.50 174.57,615.08 173.00,614.80 C171.43,614.52 171.50,613.47 171.50,612.80 C171.50,612.13 171.43,611.08 173.00,610.80 Z" fill="#2a2a2a" opacity="1.0" filter="url(#bl)"/>
<path d="M201.90,604.00 C203.63,603.67 207.83,604.55 210.80,604.50 C213.77,604.45 217.97,603.37 219.70,603.70 C221.43,604.03 221.20,605.57 221.20,606.50 C221.20,607.43 221.43,608.97 219.70,609.30 C217.97,609.63 213.77,608.55 210.80,608.50 C207.83,608.45 203.63,609.33 201.90,609.00 C200.17,608.67 200.40,607.33 200.40,606.50 C200.40,605.67 200.17,604.33 201.90,604.00 Z" fill="#222" opacity="1.0" filter="url(#bl)"/>
<path d="M201.90,610.90 C203.63,610.62 207.83,611.30 210.80,611.30 C213.77,611.30 217.97,610.62 219.70,610.90 C221.43,611.18 221.20,612.30 221.20,613.00 C221.20,613.70 221.43,614.82 219.70,615.10 C217.97,615.38 213.77,614.70 210.80,614.70 C207.83,614.70 203.63,615.38 201.90,615.10 C200.17,614.82 200.40,613.70 200.40,613.00 C200.40,612.30 200.17,611.18 201.90,610.90 Z" fill="#333" opacity="1.0" filter="url(#bl)"/>
<rect x="232.00" y="587.50" width="120.00" height="40.00" fill="#dbdbdb" stroke="#1a1a1a" stroke-width="1.45"/>
<path d="M238.70,603.70 C239.65,602.89 241.48,605.33 242.88,605.80 C244.27,606.27 245.66,606.50 247.05,606.50 C248.44,606.50 249.83,606.27 251.22,605.80 C252.62,605.33 254.45,602.89 255.40,603.70 C256.35,604.51 256.90,608.33 256.90,610.65 C256.90,612.97 256.35,616.79 255.40,617.60 C254.45,618.41 252.62,616.02 251.22,615.50 C249.83,614.98 248.44,614.50 247.05,614.50 C245.66,614.50 244.27,614.98 242.88,615.50 C241.48,616.02 239.65,618.41 238.70,617.60 C237.75,616.79 237.20,612.97 237.20,610.65 C237.20,608.33 237.75,604.51 238.70,603.70 Z" fill="#161616" opacity="1.0" filter="url(#bl)"/>
<ellipse cx="246.50" cy="610.50" rx="3.50" ry="0.90" fill="#b0b0b0" opacity="1.0" filter="url(#bg)"/>
<path d="M266.40,603.00 C267.42,602.25 269.50,604.58 271.05,605.00 C272.60,605.42 274.15,605.58 275.70,605.50 C277.25,605.42 278.80,604.92 280.35,604.50 C281.90,604.08 283.98,602.12 285.00,603.00 C286.02,603.88 286.50,607.50 286.50,609.75 C286.50,612.00 286.02,615.71 285.00,616.50 C283.98,617.29 281.90,615.00 280.35,614.50 C278.80,614.00 277.25,613.58 275.70,613.50 C274.15,613.42 272.60,613.58 271.05,614.00 C269.50,614.42 267.42,616.75 266.40,616.00 C265.38,615.25 264.90,611.67 264.90,609.50 C264.90,607.33 265.38,603.75 266.40,603.00 Z" fill="#161616" opacity="1.0" filter="url(#bl)"/>
<ellipse cx="277.50" cy="609.80" rx="7.50" ry="0.90" fill="#a5a5a5" opacity="1.0" filter="url(#bg)"/>
<path d="M296.90,604.00 C297.90,603.25 299.92,605.58 301.42,606.00 C302.93,606.42 304.44,606.50 305.95,606.50 C307.46,606.50 308.97,606.42 310.48,606.00 C311.98,605.58 314.00,603.25 315.00,604.00 C316.00,604.75 316.50,608.33 316.50,610.50 C316.50,612.67 316.00,616.25 315.00,617.00 C314.00,617.75 311.98,615.42 310.48,615.00 C308.97,614.58 307.46,614.50 305.95,614.50 C304.44,614.50 302.93,614.58 301.42,615.00 C299.92,615.42 297.90,617.75 296.90,617.00 C295.90,616.25 295.40,612.67 295.40,610.50 C295.40,608.33 295.90,604.75 296.90,604.00 Z" fill="#161616" opacity="1.0" filter="url(#bl)"/>
<ellipse cx="305.50" cy="611.00" rx="3.50" ry="0.90" fill="#c8c8c8" opacity="1.0" filter="url(#bg)"/>
<path d="M327.70,604.00 C328.68,603.08 330.60,605.17 332.05,605.50 C333.50,605.83 334.95,606.00 336.40,606.00 C337.85,606.00 339.30,605.83 340.75,605.50 C342.20,605.17 344.12,603.08 345.10,604.00 C346.08,604.92 346.60,608.67 346.60,611.00 C346.60,613.33 346.08,617.17 345.10,618.00 C344.12,618.83 342.20,616.42 340.75,616.00 C339.30,615.58 337.85,615.50 336.40,615.50 C334.95,615.50 333.50,615.58 332.05,616.00 C330.60,616.42 328.68,618.83 327.70,618.00 C326.72,617.17 326.20,613.33 326.20,611.00 C326.20,608.67 326.72,604.92 327.70,604.00 Z" fill="#161616" opacity="1.0" filter="url(#bl)"/>
<ellipse cx="337.50" cy="611.00" rx="6.50" ry="0.90" fill="#a8a8a8" opacity="1.0" filter="url(#bg)"/>
<rect x="362.00" y="585.70" width="119.90" height="42.50" fill="#dbdbdb" stroke="#1a1a1a" stroke-width="1.45"/>
<path d="M369.60,603.50 C370.61,602.77 372.63,604.67 374.15,605.00 C375.67,605.33 377.18,605.58 378.70,605.50 C380.22,605.42 381.73,604.92 383.25,604.50 C384.77,604.08 386.79,602.21 387.80,603.00 C388.81,603.79 389.30,607.17 389.30,609.25 C389.30,611.33 388.81,614.62 387.80,615.50 C386.79,616.38 384.77,614.83 383.25,614.50 C381.73,614.17 380.22,613.58 378.70,613.50 C377.18,613.42 375.67,613.72 374.15,614.00 C372.63,614.28 370.61,615.98 369.60,615.20 C368.59,614.43 368.10,611.30 368.10,609.35 C368.10,607.40 368.59,604.23 369.60,603.50 Z" fill="#161616" opacity="1.0" filter="url(#bl)"/>
<ellipse cx="374.00" cy="609.30" rx="5.00" ry="1.12" fill="#c0c0c0" opacity="1.0" filter="url(#bg)"/>
<path d="M399.20,602.40 C400.18,601.68 402.10,603.98 403.55,604.50 C405.00,605.02 406.45,605.50 407.90,605.50 C409.35,605.50 410.80,605.02 412.25,604.50 C413.70,603.98 415.62,601.68 416.60,602.40 C417.58,603.12 418.10,606.67 418.10,608.80 C418.10,610.93 417.58,614.42 416.60,615.20 C415.62,615.98 413.70,613.95 412.25,613.50 C410.80,613.05 409.35,612.50 407.90,612.50 C406.45,612.50 405.00,613.05 403.55,613.50 C402.10,613.95 400.18,615.98 399.20,615.20 C398.22,614.42 397.70,610.93 397.70,608.80 C397.70,606.67 398.22,603.12 399.20,602.40 Z" fill="#161616" opacity="1.0" filter="url(#bl)"/>
<ellipse cx="407.50" cy="608.90" rx="3.50" ry="0.83" fill="#a0a0a0" opacity="1.0" filter="url(#bg)"/>
<path d="M429.20,604.50 C430.18,603.83 432.10,605.42 433.55,605.50 C435.00,605.58 436.45,605.33 437.90,605.00 C439.35,604.67 440.80,603.83 442.25,603.50 C443.70,603.17 445.62,602.04 446.60,603.00 C447.58,603.96 448.10,607.17 448.10,609.25 C448.10,611.33 447.58,614.46 446.60,615.50 C445.62,616.54 443.70,615.67 442.25,615.50 C440.80,615.33 439.35,614.75 437.90,614.50 C436.45,614.25 435.00,614.00 433.55,614.00 C432.10,614.00 430.18,615.25 429.20,614.50 C428.22,613.75 427.70,611.17 427.70,609.50 C427.70,607.83 428.22,605.17 429.20,604.50 Z" fill="#161616" opacity="1.0" filter="url(#bl)"/>
<ellipse cx="434.50" cy="609.50" rx="5.50" ry="1.20" fill="#c8c8c8" opacity="1.0" filter="url(#bg)"/>
<path d="M458.50,604.50 C459.51,603.79 461.53,605.17 463.05,605.00 C464.57,604.83 466.08,604.17 467.60,603.50 C469.12,602.83 470.63,601.58 472.15,601.00 C473.67,600.42 475.69,598.77 476.70,600.00 C477.71,601.23 478.20,605.60 478.20,608.40 C478.20,611.20 477.71,615.37 476.70,616.80 C475.69,618.23 473.67,617.13 472.15,617.00 C470.63,616.87 469.12,616.42 467.60,616.00 C466.08,615.58 464.57,614.83 463.05,614.50 C461.53,614.17 459.51,614.88 458.50,614.00 C457.49,613.12 457.00,610.83 457.00,609.25 C457.00,607.67 457.49,605.21 458.50,604.50 Z" fill="#161616" opacity="1.0" filter="url(#bl)"/>
<ellipse cx="463.50" cy="609.50" rx="4.50" ry="1.05" fill="#b0b0b0" opacity="1.0" filter="url(#bg)"/>
<rect x="110.30" y="636.50" width="111.30" height="36.00" fill="#d9d9d9" stroke="#1a1a1a" stroke-width="1.45"/>
<path d="M113.00,650.00 C114.21,649.17 116.85,650.67 118.78,650.50 C120.70,650.33 122.62,649.78 124.55,649.00 C126.47,648.22 128.40,646.30 130.32,645.80 C132.25,645.30 134.89,644.76 136.10,646.00 C137.31,647.24 137.60,650.83 137.60,653.25 C137.60,655.67 137.31,659.21 136.10,660.50 C134.89,661.79 132.25,660.83 130.32,661.00 C128.40,661.17 126.47,661.42 124.55,661.50 C122.62,661.58 120.70,661.58 118.78,661.50 C116.85,661.42 114.21,662.00 113.00,661.00 C111.79,660.00 111.50,657.33 111.50,655.50 C111.50,653.67 111.79,650.83 113.00,650.00 Z" fill="#111" opacity="1.0" filter="url(#bl)"/>
<path d="M146.50,647.00 C147.60,645.80 149.92,646.15 151.62,646.40 C153.33,646.65 155.04,647.65 156.75,648.50 C158.46,649.35 160.17,650.67 161.88,651.50 C163.58,652.33 165.90,652.83 167.00,653.50 C168.10,654.17 168.50,654.83 168.50,655.50 C168.50,656.17 168.10,657.00 167.00,657.50 C165.90,658.00 163.58,658.17 161.88,658.50 C160.17,658.83 158.46,659.17 156.75,659.50 C155.04,659.83 153.33,660.38 151.62,660.50 C149.92,660.62 147.60,661.35 146.50,660.20 C145.40,659.05 145.00,655.80 145.00,653.60 C145.00,651.40 145.40,648.20 146.50,647.00 Z" fill="#161616" opacity="1.0" filter="url(#bl)"/>
<ellipse cx="182.00" cy="654.00" rx="3.50" ry="2.50" fill="#999" opacity="0.5" filter="url(#bl2)"/>
<circle cx="189.3" cy="657.2" r="1.0" fill="#222"/>
<ellipse cx="214.00" cy="645.00" rx="3.00" ry="4.00" fill="#aaa" opacity="0.5" filter="url(#bl2)"/>
<rect x="232.40" y="636.50" width="119.00" height="36.00" fill="#d9d9d9" stroke="#1a1a1a" stroke-width="1.45"/>
<path d="M238.20,644.40 C239.49,643.72 242.36,646.90 244.43,647.50 C246.51,648.10 248.59,648.58 250.67,648.00 C252.74,647.42 255.61,643.46 256.90,644.00 C258.19,644.54 258.40,648.83 258.40,651.25 C258.40,653.67 258.19,657.29 256.90,658.50 C255.61,659.71 252.74,658.45 250.67,658.50 C248.59,658.55 246.51,658.75 244.43,658.80 C242.36,658.85 239.49,660.00 238.20,658.80 C236.91,657.60 236.70,654.00 236.70,651.60 C236.70,649.20 236.91,645.08 238.20,644.40 Z" fill="#181818" opacity="1.0" filter="url(#bl)"/>
<path d="M269.50,643.50 C270.81,641.99 273.74,642.83 275.87,642.70 C277.99,642.57 280.11,642.57 282.23,642.70 C284.36,642.83 287.29,642.03 288.60,643.50 C289.91,644.97 290.10,648.83 290.10,651.50 C290.10,654.17 289.91,658.08 288.60,659.50 C287.29,660.92 284.36,659.92 282.23,660.00 C280.11,660.08 277.99,660.00 275.87,660.00 C273.74,660.00 270.81,661.38 269.50,660.00 C268.19,658.62 268.00,654.50 268.00,651.75 C268.00,649.00 268.19,645.01 269.50,643.50 Z" fill="#181818" opacity="1.0" filter="url(#bl)"/>
<path d="M300.00,643.00 C301.28,641.53 304.13,642.62 306.20,642.70 C308.27,642.78 310.33,643.12 312.40,643.50 C314.47,643.88 317.32,643.58 318.60,645.00 C319.88,646.42 320.10,649.67 320.10,652.00 C320.10,654.33 319.88,657.67 318.60,659.00 C317.32,660.33 314.47,659.83 312.40,660.00 C310.33,660.17 308.27,660.00 306.20,660.00 C304.13,660.00 301.28,661.42 300.00,660.00 C298.72,658.58 298.50,654.33 298.50,651.50 C298.50,648.67 298.72,644.47 300.00,643.00 Z" fill="#181818" opacity="1.0" filter="url(#bl)"/>
<path d="M328.90,647.00 C329.92,646.17 331.97,648.17 333.50,648.00 C335.03,647.83 336.57,647.00 338.10,646.00 C339.63,645.00 341.68,641.29 342.70,642.00 C343.72,642.71 344.20,647.50 344.20,650.25 C344.20,653.00 343.72,656.62 342.70,658.50 C341.68,660.38 339.63,661.00 338.10,661.50 C336.57,662.00 335.03,661.92 333.50,661.50 C331.97,661.08 329.92,660.42 328.90,659.00 C327.88,657.58 327.40,655.00 327.40,653.00 C327.40,651.00 327.88,647.83 328.90,647.00 Z" fill="#1a1a1a" opacity="1.0" filter="url(#bl)"/>
<rect x="360.40" y="637.20" width="120.70" height="35.30" fill="#d9d9d9" stroke="#1a1a1a" stroke-width="1.45"/>
<path d="M366.20,643.20 C367.84,641.97 371.77,643.00 374.55,643.00 C377.33,643.00 381.26,641.98 382.90,643.20 C384.54,644.42 384.40,647.93 384.40,650.30 C384.40,652.67 384.54,656.15 382.90,657.40 C381.26,658.65 377.33,657.77 374.55,657.80 C371.77,657.83 367.84,658.83 366.20,657.60 C364.56,656.37 364.70,652.80 364.70,650.40 C364.70,648.00 364.56,644.43 366.20,643.20 Z" fill="#111" opacity="1.0" filter="url(#bl)"/>
<path d="M396.00,645.50 C397.26,644.67 400.04,645.30 402.07,645.00 C404.09,644.70 406.11,643.78 408.13,643.70 C410.16,643.62 412.94,643.45 414.20,644.50 C415.46,645.55 415.70,648.17 415.70,650.00 C415.70,651.83 415.46,654.55 414.20,655.50 C412.94,656.45 410.16,655.78 408.13,655.70 C406.11,655.62 404.09,655.20 402.07,655.00 C400.04,654.80 397.26,655.33 396.00,654.50 C394.74,653.67 394.50,651.50 394.50,650.00 C394.50,648.50 394.74,646.33 396.00,645.50 Z" fill="url(#g3)" opacity="1.0" filter="url(#bl)"/>
<path d="M425.60,645.50 C426.84,644.85 429.58,645.02 431.57,645.10 C433.56,645.18 435.54,645.60 437.53,646.00 C439.52,646.40 442.26,646.31 443.50,647.50 C444.74,648.69 445.00,651.27 445.00,653.15 C445.00,655.03 444.74,658.07 443.50,658.80 C442.26,659.52 439.52,658.38 437.53,657.50 C435.54,656.62 433.56,654.33 431.57,653.50 C429.58,652.67 426.84,653.25 425.60,652.50 C424.36,651.75 424.10,650.17 424.10,649.00 C424.10,647.83 424.36,646.15 425.60,645.50 Z" fill="#1e1e1e" opacity="1.0" filter="url(#bl)"/>
<path d="M456.10,651.00 C457.56,650.54 460.94,651.42 463.37,651.50 C465.79,651.58 468.21,651.83 470.63,651.50 C473.06,651.17 476.44,648.88 477.90,649.50 C479.36,650.12 479.40,653.33 479.40,655.25 C479.40,657.17 479.36,660.29 477.90,661.00 C476.44,661.71 473.06,659.92 470.63,659.50 C468.21,659.08 465.79,658.83 463.37,658.50 C460.94,658.17 457.56,658.21 456.10,657.50 C454.64,656.79 454.60,655.33 454.60,654.25 C454.60,653.17 454.64,651.46 456.10,651.00 Z" fill="url(#g4)" opacity="1.0" filter="url(#bl)"/>
<rect x="112.20" y="681.50" width="112.40" height="62.30" fill="#ababab" stroke="#1a1a1a" stroke-width="1.45"/>
<rect x="214" y="682.5" width="10" height="22" fill="#777" opacity="0.7" filter="url(#bl2)"/>
<path d="M114.00,701.00 C115.40,700.00 118.60,700.50 120.90,700.50 C123.20,700.50 125.50,700.83 127.80,701.00 C130.10,701.17 133.30,700.54 134.70,701.50 C136.10,702.46 136.20,705.00 136.20,706.75 C136.20,708.50 136.10,710.96 134.70,712.00 C133.30,713.04 130.10,712.92 127.80,713.00 C125.50,713.08 123.20,712.67 120.90,712.50 C118.60,712.33 115.40,713.00 114.00,712.00 C112.60,711.00 112.50,708.33 112.50,706.50 C112.50,704.67 112.60,702.00 114.00,701.00 Z" fill="#111" opacity="1.0" filter="url(#bl)"/>
<path d="M125.50,709.00 C126.50,708.67 128.50,709.83 130.00,710.00 C131.50,710.17 133.50,709.75 134.50,710.00 C135.50,710.25 136.00,711.00 136.00,711.50 C136.00,712.00 135.50,712.00 134.50,713.00 C133.50,714.00 131.50,717.17 130.00,717.50 C128.50,717.83 126.50,715.92 125.50,715.00 C124.50,714.08 124.00,713.00 124.00,712.00 C124.00,711.00 124.50,709.33 125.50,709.00 Z" fill="#111" opacity="1.0" filter="url(#bl)"/>
<path d="M140.00,701.90 C142.12,701.23 147.47,702.20 151.20,702.20 C154.93,702.20 160.28,701.23 162.40,701.90 C164.52,702.57 163.90,704.77 163.90,706.20 C163.90,707.63 164.52,709.83 162.40,710.50 C160.28,711.17 154.93,710.20 151.20,710.20 C147.47,710.20 142.12,711.17 140.00,710.50 C137.88,709.83 138.50,707.63 138.50,706.20 C138.50,704.77 137.88,702.57 140.00,701.90 Z" fill="#141414" opacity="1.0" filter="url(#bl)"/>
<path d="M167.20,705.00 C168.80,704.56 172.60,705.08 175.30,705.00 C178.00,704.92 180.70,704.80 183.40,704.50 C186.10,704.20 189.90,702.67 191.50,703.20 C193.10,703.73 193.00,706.20 193.00,707.70 C193.00,709.20 193.10,711.65 191.50,712.20 C189.90,712.75 186.10,711.32 183.40,711.00 C180.70,710.68 178.00,710.42 175.30,710.30 C172.60,710.18 168.80,710.74 167.20,710.30 C165.60,709.86 165.70,708.53 165.70,707.65 C165.70,706.77 165.60,705.44 167.20,705.00 Z" fill="#151515" opacity="1.0" filter="url(#bl)"/>
<path d="M197.30,702.20 C198.96,701.48 202.94,702.53 205.77,702.50 C208.59,702.47 211.41,702.08 214.23,702.00 C217.06,701.92 221.04,701.21 222.70,702.00 C224.36,702.79 224.20,705.17 224.20,706.75 C224.20,708.33 224.36,710.79 222.70,711.50 C221.04,712.21 217.06,711.08 214.23,711.00 C211.41,710.92 208.59,710.92 205.77,711.00 C202.94,711.08 198.96,712.19 197.30,711.50 C195.64,710.81 195.80,708.40 195.80,706.85 C195.80,705.30 195.64,702.93 197.30,702.20 Z" fill="#131313" opacity="1.0" filter="url(#bl)"/>
<ellipse cx="143.00" cy="738.50" rx="2.50" ry="1.50" fill="#444" opacity="0.6" filter="url(#bl2)"/>
<path d="M170.70,737.00 C172.38,736.77 176.40,737.22 179.25,737.30 C182.10,737.38 186.12,737.30 187.80,737.50 C189.48,737.70 189.30,738.17 189.30,738.50 C189.30,738.83 189.48,739.25 187.80,739.50 C186.12,739.75 182.10,739.85 179.25,740.00 C176.40,740.15 172.38,740.62 170.70,740.40 C169.02,740.18 169.20,739.27 169.20,738.70 C169.20,738.13 169.02,737.23 170.70,737.00 Z" fill="url(#g5)" opacity="1.0" filter="url(#bl)"/>
<path d="M199.50,734.50 C201.04,734.29 204.66,735.00 207.23,735.00 C209.81,735.00 212.39,734.75 214.97,734.50 C217.54,734.25 221.16,733.21 222.70,733.50 C224.24,733.79 224.20,735.33 224.20,736.25 C224.20,737.17 224.24,738.62 222.70,739.00 C221.16,739.38 217.54,738.67 214.97,738.50 C212.39,738.33 209.81,738.08 207.23,738.00 C204.66,737.92 201.04,738.29 199.50,738.00 C197.96,737.71 198.00,736.83 198.00,736.25 C198.00,735.67 197.96,734.71 199.50,734.50 Z" fill="#1c1c1c" opacity="1.0" filter="url(#bl)"/>
<rect x="231.00" y="682.50" width="123.20" height="61.70" fill="#b6b6b6" stroke="#1a1a1a" stroke-width="1.45"/>
<path d="M233.50,694.30 C235.83,693.62 241.83,693.97 246.00,694.00 C250.17,694.03 256.17,693.88 258.50,694.50 C260.83,695.12 260.00,696.67 260.00,697.75 C260.00,698.83 260.83,700.38 258.50,701.00 C256.17,701.62 250.17,701.37 246.00,701.50 C241.83,701.63 235.83,702.38 233.50,701.80 C231.17,701.22 232.00,699.30 232.00,698.05 C232.00,696.80 231.17,694.97 233.50,694.30 Z" fill="#151515" opacity="1.0" filter="url(#bl)"/>
<path d="M263.30,696.00 C265.73,695.33 272.03,695.97 276.40,696.00 C280.77,696.03 287.07,695.43 289.50,696.20 C291.93,696.97 291.00,699.13 291.00,700.60 C291.00,702.07 291.93,704.27 289.50,705.00 C287.07,705.73 280.77,705.17 276.40,705.00 C272.03,704.83 265.73,704.83 263.30,704.00 C260.87,703.17 261.80,701.33 261.80,700.00 C261.80,698.67 260.87,696.67 263.30,696.00 Z" fill="#151515" opacity="1.0" filter="url(#bl)"/>
<path d="M295.00,695.50 C297.46,694.62 303.83,695.42 308.25,695.50 C312.67,695.58 319.04,695.08 321.50,696.00 C323.96,696.92 323.00,699.33 323.00,701.00 C323.00,702.67 323.96,705.03 321.50,706.00 C319.04,706.97 312.67,706.80 308.25,706.80 C303.83,706.80 297.46,707.01 295.00,706.00 C292.54,704.99 293.50,702.50 293.50,700.75 C293.50,699.00 292.54,696.38 295.00,695.50 Z" fill="#151515" opacity="1.0" filter="url(#bl)"/>
<path d="M327.00,698.00 C328.61,697.17 332.44,698.67 335.17,699.00 C337.89,699.33 340.61,699.83 343.33,700.00 C346.06,700.17 349.89,699.33 351.50,700.00 C353.11,700.67 353.00,702.67 353.00,704.00 C353.00,705.33 353.11,707.25 351.50,708.00 C349.89,708.75 346.06,708.33 343.33,708.50 C340.61,708.67 337.89,708.75 335.17,709.00 C332.44,709.25 328.61,710.83 327.00,710.00 C325.39,709.17 325.50,706.00 325.50,704.00 C325.50,702.00 325.39,698.83 327.00,698.00 Z" fill="#151515" opacity="1.0" filter="url(#bl)"/>
<ellipse cx="298.50" cy="731.00" rx="2.50" ry="2.00" fill="#777" opacity="0.6" filter="url(#bl2)"/>
<path d="M331.20,733.60 C332.13,733.28 333.87,733.28 334.80,733.60 C335.73,733.92 336.80,734.90 336.80,735.55 C336.80,736.20 335.73,737.17 334.80,737.50 C333.87,737.83 332.13,737.83 331.20,737.50 C330.27,737.17 329.20,736.20 329.20,735.55 C329.20,734.90 330.27,733.92 331.20,733.60 Z" fill="#1a1a1a" opacity="1.0" filter="url(#bl)"/>
<path d="M337.50,735.00 C339.92,734.92 348.08,735.33 350.50,735.50 C352.92,735.67 352.00,735.83 352.00,736.00 C352.00,736.17 352.92,736.33 350.50,736.50 C348.08,736.67 339.92,737.08 337.50,737.00 C335.08,736.92 336.00,736.33 336.00,736.00 C336.00,735.67 335.08,735.08 337.50,735.00 Z" fill="#777" opacity="0.7" filter="url(#bl)"/>
<rect x="360.50" y="681.00" width="121.00" height="60.80" fill="#bababa" stroke="#1a1a1a" stroke-width="1.45"/>
<path d="M363.00,695.50 C364.83,694.34 369.33,694.88 372.50,694.80 C375.67,694.72 378.83,694.80 382.00,695.00 C385.17,695.20 389.67,694.92 391.50,696.00 C393.33,697.08 393.00,699.67 393.00,701.50 C393.00,703.33 393.33,705.92 391.50,707.00 C389.67,708.08 385.17,707.75 382.00,708.00 C378.83,708.25 375.67,708.50 372.50,708.50 C369.33,708.50 364.83,709.12 363.00,708.00 C361.17,706.88 361.50,703.83 361.50,701.75 C361.50,699.67 361.17,696.66 363.00,695.50 Z" fill="#111" opacity="1.0" filter="url(#bl)"/>
<path d="M395.50,697.00 C397.85,696.13 403.90,696.72 408.10,696.80 C412.30,696.88 418.35,696.59 420.70,697.50 C423.05,698.41 422.20,700.67 422.20,702.25 C422.20,703.83 423.05,706.12 420.70,707.00 C418.35,707.88 412.30,707.50 408.10,707.50 C403.90,707.50 397.85,707.92 395.50,707.00 C393.15,706.08 394.00,703.67 394.00,702.00 C394.00,700.33 393.15,697.87 395.50,697.00 Z" fill="#131313" opacity="1.0" filter="url(#bl)"/>
<path d="M427.00,698.50 C429.29,697.83 435.17,698.45 439.25,698.50 C443.33,698.55 449.21,698.11 451.50,698.80 C453.79,699.49 453.00,701.37 453.00,702.65 C453.00,703.93 453.79,705.81 451.50,706.50 C449.21,707.19 443.33,706.80 439.25,706.80 C435.17,706.80 429.29,707.22 427.00,706.50 C424.71,705.78 425.50,703.83 425.50,702.50 C425.50,701.17 424.71,699.17 427.00,698.50 Z" fill="#151515" opacity="1.0" filter="url(#bl)"/>
<path d="M457.50,699.30 C459.58,698.62 464.83,699.30 468.50,699.30 C472.17,699.30 477.42,698.57 479.50,699.30 C481.58,700.02 481.00,702.20 481.00,703.65 C481.00,705.10 481.58,707.27 479.50,708.00 C477.42,708.73 472.17,708.08 468.50,708.00 C464.83,707.92 459.58,708.27 457.50,707.50 C455.42,706.73 456.00,704.77 456.00,703.40 C456.00,702.03 455.42,699.98 457.50,699.30 Z" fill="#151515" opacity="1.0" filter="url(#bl)"/>
<path d="M471.80,735.00 C472.92,734.73 475.38,734.73 476.50,735.00 C477.62,735.27 478.50,736.07 478.50,736.60 C478.50,737.13 477.62,737.93 476.50,738.20 C475.38,738.47 472.92,738.47 471.80,738.20 C470.68,737.93 469.80,737.13 469.80,736.60 C469.80,736.07 470.68,735.27 471.80,735.00 Z" fill="#2a2a2a" opacity="1.0" filter="url(#bl)"/>
<ellipse cx="461.00" cy="736.50" rx="2.00" ry="1.20" fill="#777" opacity="0.5" filter="url(#bl2)"/>
<ellipse cx="445.00" cy="737.00" rx="2.00" ry="1.20" fill="#999" opacity="0.4" filter="url(#bl2)"/>
<rect x="110.30" y="752.70" width="113.00" height="37.50" fill="url(#hs1)" stroke="#1a1a1a" stroke-width="1.45"/>
<ellipse cx="180.00" cy="757.00" rx="10.00" ry="3.50" fill="#666" opacity="0.6" filter="url(#bl2)"/>
<ellipse cx="150.00" cy="756.00" rx="8.00" ry="2.50" fill="#999" opacity="0.5" filter="url(#bl2)"/>
<path d="M112.50,758.20 C114.40,757.47 119.10,757.95 122.40,758.00 C125.70,758.05 130.40,757.75 132.30,758.50 C134.20,759.25 133.80,761.17 133.80,762.50 C133.80,763.83 134.20,765.78 132.30,766.50 C130.40,767.22 125.70,766.78 122.40,766.80 C119.10,766.82 114.40,767.33 112.50,766.60 C110.60,765.87 111.00,763.80 111.00,762.40 C111.00,761.00 110.60,758.93 112.50,758.20 Z" fill="#151515" opacity="1.0" filter="url(#bl)"/>
<path d="M140.20,759.90 C142.30,759.17 147.60,759.70 151.30,759.80 C155.00,759.90 160.30,759.72 162.40,760.50 C164.50,761.28 163.90,763.17 163.90,764.50 C163.90,765.83 164.50,767.75 162.40,768.50 C160.30,769.25 155.00,769.00 151.30,769.00 C147.60,769.00 142.30,769.30 140.20,768.50 C138.10,767.70 138.70,765.63 138.70,764.20 C138.70,762.77 138.10,760.63 140.20,759.90 Z" fill="#151515" opacity="1.0" filter="url(#bl)"/>
<path d="M169.50,759.00 C170.96,758.38 174.32,760.17 176.73,760.50 C179.14,760.83 181.56,760.83 183.97,761.00 C186.38,761.17 189.74,760.67 191.20,761.50 C192.66,762.33 192.70,764.50 192.70,766.00 C192.70,767.50 192.66,769.60 191.20,770.50 C189.74,771.40 186.38,771.32 183.97,771.40 C181.56,771.48 179.14,771.32 176.73,771.00 C174.32,770.68 170.96,770.62 169.50,769.50 C168.04,768.38 168.00,766.00 168.00,764.25 C168.00,762.50 168.04,759.62 169.50,759.00 Z" fill="#111" opacity="1.0" filter="url(#bl)"/>
<path d="M197.40,765.40 C198.98,764.99 202.71,766.07 205.37,766.50 C208.02,766.93 210.68,767.67 213.33,768.00 C215.99,768.33 219.72,767.67 221.30,768.50 C222.88,769.33 222.80,771.50 222.80,773.00 C222.80,774.50 222.88,776.95 221.30,777.50 C219.72,778.05 215.99,776.88 213.33,776.30 C210.68,775.72 208.02,774.63 205.37,774.00 C202.71,773.37 198.98,773.34 197.40,772.50 C195.82,771.66 195.90,770.13 195.90,768.95 C195.90,767.77 195.82,765.81 197.40,765.40 Z" fill="#151515" opacity="1.0" filter="url(#bl)"/>
<rect x="231.00" y="753.00" width="121.50" height="35.50" fill="url(#hs2)" stroke="#1a1a1a" stroke-width="1.45"/>
<path d="M234.50,762.50 C236.68,761.67 242.23,761.92 246.10,761.50 C249.97,761.08 255.52,759.68 257.70,760.00 C259.88,760.32 259.20,762.27 259.20,763.40 C259.20,764.53 259.88,765.87 257.70,766.80 C255.52,767.73 249.97,768.38 246.10,769.00 C242.23,769.62 236.68,770.92 234.50,770.50 C232.32,770.08 233.00,767.83 233.00,766.50 C233.00,765.17 232.32,763.33 234.50,762.50 Z" fill="#151515" opacity="1.0" filter="url(#bl)"/>
<path d="M265.70,757.80 C267.85,757.07 273.30,757.55 277.10,757.50 C280.90,757.45 286.35,756.83 288.50,757.50 C290.65,758.17 290.00,760.17 290.00,761.50 C290.00,762.83 290.65,764.75 288.50,765.50 C286.35,766.25 280.90,765.92 277.10,766.00 C273.30,766.08 267.85,766.68 265.70,766.00 C263.55,765.32 264.20,763.27 264.20,761.90 C264.20,760.53 263.55,758.53 265.70,757.80 Z" fill="#151515" opacity="1.0" filter="url(#bl)"/>
<path d="M297.00,756.80 C299.12,756.28 304.50,756.77 308.25,756.80 C312.00,756.83 317.38,756.47 319.50,757.00 C321.62,757.53 321.00,759.00 321.00,760.00 C321.00,761.00 321.62,762.45 319.50,763.00 C317.38,763.55 312.00,763.30 308.25,763.30 C304.50,763.30 299.12,763.57 297.00,763.00 C294.88,762.43 295.50,760.93 295.50,759.90 C295.50,758.87 294.88,757.32 297.00,756.80 Z" fill="#151515" opacity="1.0" filter="url(#bl)"/>
<path d="M329.50,756.30 C331.42,755.78 336.17,756.27 339.50,756.30 C342.83,756.33 347.58,755.97 349.50,756.50 C351.42,757.03 351.00,758.50 351.00,759.50 C351.00,760.50 351.42,761.95 349.50,762.50 C347.58,763.05 342.83,762.80 339.50,762.80 C336.17,762.80 331.42,763.07 329.50,762.50 C327.58,761.93 328.00,760.43 328.00,759.40 C328.00,758.37 327.58,756.82 329.50,756.30 Z" fill="#151515" opacity="1.0" filter="url(#bl)"/>
<rect x="360.50" y="753.00" width="121.00" height="36.20" fill="url(#hs3)" stroke="#1a1a1a" stroke-width="1.45"/>
<path d="M365.50,755.50 C367.58,754.80 372.83,755.30 376.50,755.30 C380.17,755.30 385.42,754.80 387.50,755.50 C389.58,756.20 389.00,758.17 389.00,759.50 C389.00,760.83 389.58,762.78 387.50,763.50 C385.42,764.22 380.17,763.80 376.50,763.80 C372.83,763.80 367.58,764.22 365.50,763.50 C363.42,762.78 364.00,760.83 364.00,759.50 C364.00,758.17 363.42,756.20 365.50,755.50 Z" fill="#151515" opacity="1.0" filter="url(#bl)"/>
<path d="M396.30,756.00 C398.48,755.32 404.03,755.97 407.90,756.00 C411.77,756.03 417.32,755.50 419.50,756.20 C421.68,756.90 421.00,758.87 421.00,760.20 C421.00,761.53 421.68,763.48 419.50,764.20 C417.32,764.92 411.77,764.50 407.90,764.50 C404.03,764.50 398.48,764.93 396.30,764.20 C394.12,763.47 394.80,761.47 394.80,760.10 C394.80,758.73 394.12,756.68 396.30,756.00 Z" fill="#151515" opacity="1.0" filter="url(#bl)"/>
<path d="M427.00,755.50 C429.17,754.67 434.67,755.30 438.50,755.30 C442.33,755.30 447.83,754.72 450.00,755.50 C452.17,756.28 451.50,758.50 451.50,760.00 C451.50,761.50 452.17,763.67 450.00,764.50 C447.83,765.33 442.33,764.92 438.50,765.00 C434.67,765.08 429.17,765.79 427.00,765.00 C424.83,764.21 425.50,761.83 425.50,760.25 C425.50,758.67 424.83,756.33 427.00,755.50 Z" fill="#151515" opacity="1.0" filter="url(#bl)"/>
<path d="M456.30,756.00 C457.84,755.17 461.46,755.62 464.03,755.50 C466.61,755.38 469.19,755.30 471.77,755.30 C474.34,755.30 477.96,754.52 479.50,755.50 C481.04,756.48 481.00,759.27 481.00,761.15 C481.00,763.03 481.04,765.91 479.50,766.80 C477.96,767.69 474.34,766.72 471.77,766.50 C469.19,766.28 466.61,765.75 464.03,765.50 C461.46,765.25 457.84,765.83 456.30,765.00 C454.76,764.17 454.80,762.00 454.80,760.50 C454.80,759.00 454.76,756.83 456.30,756.00 Z" fill="#111" opacity="1.0" filter="url(#bl)"/>
<ellipse cx="462.00" cy="771.70" rx="3.00" ry="1.50" fill="#888" opacity="0.5" filter="url(#bl2)"/>
<defs><filter id="bg" x="-20%" y="-100%" width="140%" height="300%"><feGaussianBlur stdDeviation="0.6"/></filter><filter id="bl" x="-20%" y="-50%" width="140%" height="200%"><feGaussianBlur stdDeviation="0.9"/></filter><filter id="bl2" x="-50%" y="-50%" width="200%" height="200%"><feGaussianBlur stdDeviation="1.6"/></filter><linearGradient id="g1" x1="0" x2="1" y1="0" y2="0"><stop offset="0" stop-color="#7a7a7a"/><stop offset="0.5" stop-color="#444"/><stop offset="1" stop-color="#1a1a1a"/></linearGradient><linearGradient id="g2" x1="0" x2="1" y1="0" y2="0"><stop offset="0" stop-color="#6a6a6a"/><stop offset="0.5" stop-color="#555"/><stop offset="1" stop-color="#2a2a2a"/></linearGradient><linearGradient id="g3" x1="0" x2="1" y1="0" y2="0"><stop offset="0" stop-color="#888"/><stop offset="0.5" stop-color="#444"/><stop offset="1" stop-color="#1a1a1a"/></linearGradient><linearGradient id="g4" x1="0" x2="1" y1="0" y2="0"><stop offset="0" stop-color="#555"/><stop offset="0.3" stop-color="#777"/><stop offset="0.75" stop-color="#777"/><stop offset="1" stop-color="#222"/></linearGradient><linearGradient id="g5" x1="0" x2="1" y1="0" y2="0"><stop offset="0" stop-color="#222"/><stop offset="0.5" stop-color="#555"/><stop offset="1" stop-color="#333"/></linearGradient><linearGradient id="hs1" x1="0" x2="0" y1="0" y2="1"><stop offset="0" stop-color="#d0d0d0"/><stop offset="0.5" stop-color="#d8d8d8"/><stop offset="1" stop-color="#e2e2e2"/></linearGradient><linearGradient id="hs2" x1="0" x2="0" y1="0" y2="1"><stop offset="0" stop-color="#d0d0d0"/><stop offset="0.5" stop-color="#d8d8d8"/><stop offset="1" stop-color="#e2e2e2"/></linearGradient><linearGradient id="hs3" x1="0" x2="0" y1="0" y2="1"><stop offset="0" stop-color="#d0d0d0"/><stop offset="0.5" stop-color="#d8d8d8"/><stop offset="1" stop-color="#e2e2e2"/></linearGradient></defs>
</svg>
</body></html>
